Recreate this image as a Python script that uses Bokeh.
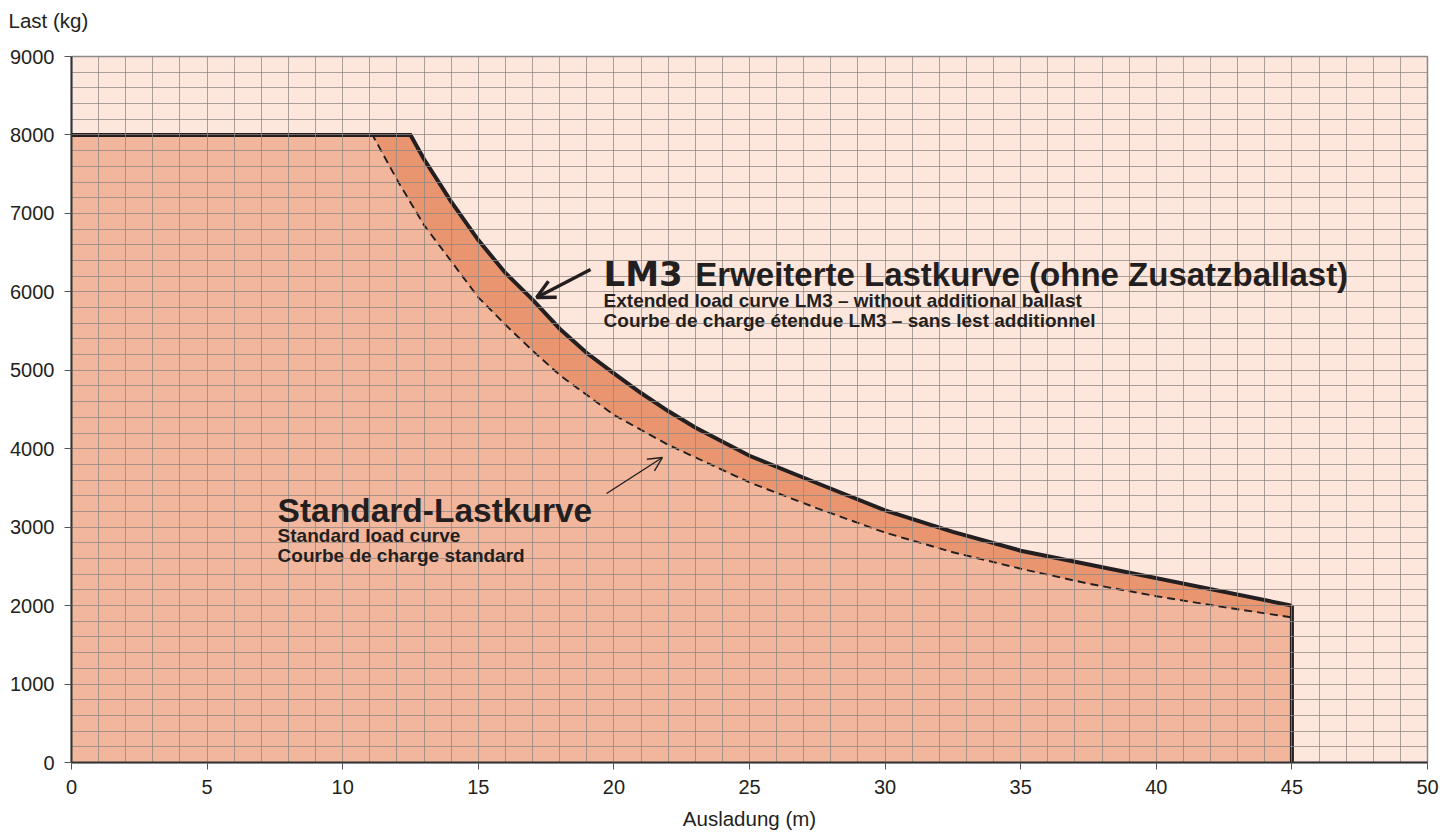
from bokeh.plotting import figure
from bokeh.models import Range1d, SingleIntervalTicker, Label, Arrow, OpenHead, Title
from bokeh.embed import file_html
from bokeh.resources import INLINE

# ---- data ----
lm3_x = [0, 12.5, 13, 14, 15, 16, 17, 18, 19, 20, 21, 22, 23, 25, 27.5, 30, 32.5, 35, 45]
lm3_y = [8000, 8000, 7690, 7150, 6660, 6240, 5900, 5530, 5220, 4960, 4710, 4480, 4270,
         3910, 3560, 3215, 2940, 2700, 2000]

std_x = [0, 11.1, 12, 13, 14, 15, 16, 17, 18, 20, 22, 25, 27.5, 30, 32.5, 35, 37.5, 40, 42.5, 45]
std_y = [8000, 8000, 7430, 6850, 6390, 5930, 5580, 5250, 4940, 4430, 4050, 3570, 3240,
         2930, 2680, 2470, 2280, 2120, 1980, 1850]

x_range = (0, 50)
y_range = (0, 9000)
x_major = 5
y_major = 1000
x_grid_step = 1
y_grid_step = 200

title_txt = "Last (kg)"
xlabel_txt = "Ausladung (m)"
lm3_tag = "LM3"
lm3_title = "Erweiterte Lastkurve (ohne Zusatzballast)"
lm3_sub1 = "Extended load curve LM3 \u2013 without additional ballast"
lm3_sub2 = "Courbe de charge \u00e9tendue LM3 \u2013 sans lest additionnel"
std_title = "Standard-Lastkurve"
std_sub1 = "Standard load curve"
std_sub2 = "Courbe de charge standard"

# ---- styles ----
BG = "#fde6dc"
STD_FILL = "#f1b69c"
LM3_FILL = "#e99670"
INK = "#231f20"
GRID = "#8f8682"
FONT = "Liberation Sans"

p = figure(width=1448, height=832, output_backend="svg", toolbar_location=None,
           x_range=Range1d(*x_range), y_range=Range1d(*y_range),
           min_border_left=71, min_border_right=21, min_border_top=56, min_border_bottom=40)

# y-axis caption at the top-left; an empty second line lifts it away from the frame
p.title = Title(text=title_txt + "\n ", align="left", offset=-63, standoff=4,
                vertical_align="bottom",
                text_font=FONT, text_font_size="20.5px", text_font_style="normal",
                text_color=INK)

p.background_fill_color = BG
p.border_fill_color = "white"
p.outline_line_color = "#8a8a8a"
p.outline_line_width = 1.5

# fills below grid
p.varea(x=lm3_x, y1=0, y2=lm3_y, fill_color=LM3_FILL, level="underlay")
p.varea(x=std_x, y1=0, y2=std_y, fill_color=STD_FILL, level="underlay")

# grids
for g, step in ((p.xgrid, x_grid_step), (p.ygrid, y_grid_step)):
    g.ticker = SingleIntervalTicker(interval=step)
    g.grid_line_color = GRID
    g.grid_line_width = 1
    g.grid_line_alpha = 0.75
    g.level = "glyph"

# curves
p.line(std_x, std_y, line_color=INK, line_width=1.9, line_dash="8 5")
p.line(lm3_x, lm3_y, line_color=INK, line_width=4, line_join="miter")
p.segment(x0=[lm3_x[-1]], y0=[lm3_y[-1]], x1=[lm3_x[-1]], y1=[0],
          line_color=INK, line_width=4)

# axes
p.xaxis.ticker = SingleIntervalTicker(interval=x_major)
p.yaxis.ticker = SingleIntervalTicker(interval=y_major)
for ax in (p.xaxis[0], p.yaxis[0]):
    ax.axis_line_color = "#333333"
    ax.axis_line_width = 2
    ax.major_tick_line_color = "#555555"
    ax.major_tick_out = 7
    ax.major_tick_in = 0
    ax.minor_tick_line_color = None
    ax.major_label_text_font = FONT
    ax.major_label_text_font_size = "20px"
    ax.major_label_text_color = INK
    ax.major_label_standoff = 10
p.xaxis.axis_label = xlabel_txt
p.xaxis.axis_label_text_font = FONT
p.xaxis.axis_label_text_font_size = "20.5px"
p.xaxis.axis_label_text_font_style = "normal"
p.xaxis.axis_label_text_color = INK
p.xaxis.axis_label_standoff = 10

# annotations
def lab(x, y, t, size, font=FONT, style="bold"):
    p.add_layout(Label(x=x, y=y, text=t, text_font=font, text_font_size=size,
                       text_font_style=style, text_color=INK,
                       text_baseline="alphabetic", text_align="left"))

lab(19.62, 6225, lm3_tag, "34px", font="DejaVu Sans")
lab(23.0, 6225, lm3_title, "33px")
lab(19.62, 5890, lm3_sub1, "19px")
lab(19.62, 5635, lm3_sub2, "19px")

lab(7.6, 3213, std_title, "33.5px")
lab(7.6, 2894, std_sub1, "19px")
lab(7.6, 2639, std_sub2, "19px")

p.add_layout(Arrow(x_start=19.14, y_start=6285, x_end=17.15, y_end=5928,
                   line_color=INK, line_width=3.4,
                   end=OpenHead(size=18, line_color=INK, line_width=3.4)))
p.add_layout(Arrow(x_start=19.73, y_start=3429, x_end=21.79, y_end=3888,
                   line_color=INK, line_width=1.4,
                   end=OpenHead(size=14, line_color=INK, line_width=1.4)))

open("out.html", "w").write(file_html(p, INLINE))
